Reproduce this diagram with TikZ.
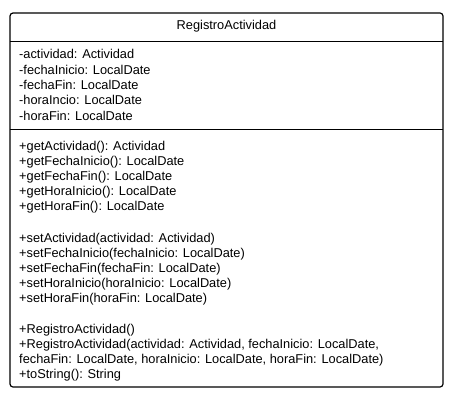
\documentclass[tikz,border=0pt]{standalone}
\usepackage{fontspec}
\setmainfont{Liberation Sans}
\begin{document}
\begin{tikzpicture}[x=1pt,y=-1pt,
  classbox/.style={draw=black,line width=1.2pt,rounded corners=3pt},
  sep/.style={draw=black,line width=1pt},
  member/.style={anchor=base west,inner sep=0pt,font=\fontsize{12.8}{15}\selectfont},
  title/.style={anchor=base,inner sep=0pt,font=\fontsize{12.8}{15}\selectfont}]
\useasboundingbox (0,0) rectangle (460,401);
% class frame and compartment separators
\draw[classbox] (10,13) rectangle (443,387);
\coordinate (s1l) at (10,42);  \coordinate (s1r) at (443,42);
\coordinate (s2l) at (10,129); \coordinate (s2r) at (443,129);
\draw[sep] (s1l) -- (s1r);
\draw[sep] (s2l) -- (s2r);
% class name
\node[title] (name) at (226.5,30) {RegistroActividad};
% attributes
\foreach \t [count=\i] in {
  -actividad: Actividad,
  -fechaInicio: LocalDate,
  -fechaFin: LocalDate,
  -horaIncio: LocalDate,
  -horaFin: LocalDate}
  \node[member] (attr\i) at (19,{59+15.3*(\i-1)}) {\t};
% getters
\foreach \t [count=\i] in {
  +getActividad(): Actividad,
  +getFechaInicio(): LocalDate,
  +getFechaFin(): LocalDate,
  +getHoraInicio(): LocalDate,
  +getHoraFin(): LocalDate}
  \node[member] (get\i) at (19,{150+15.2*(\i-1)}) {\t};
% setters
\foreach \t [count=\i] in {
  +setActividad(actividad: Actividad),
  +setFechaInicio(fechaInicio: LocalDate),
  +setFechaFin(fechaFin: LocalDate),
  +setHoraInicio(horaInicio: LocalDate),
  +setHoraFin(horaFin: LocalDate)}
  \node[member] (set\i) at (19,{242+15.2*(\i-1)}) {\t};
% constructors and toString
\node[member] (ctor1) at (19,333) {+RegistroActividad()};
\node[member] (ctor2) at (19,348) {+RegistroActividad(actividad: Actividad, fechaInicio: LocalDate,};
\node[member] (ctor3) at (19,363) {fechaFin: LocalDate, horaInicio: LocalDate, horaFin: LocalDate)};
\node[member] (tostr) at (19,378) {+toString(): String};
\end{tikzpicture}
\end{document}
